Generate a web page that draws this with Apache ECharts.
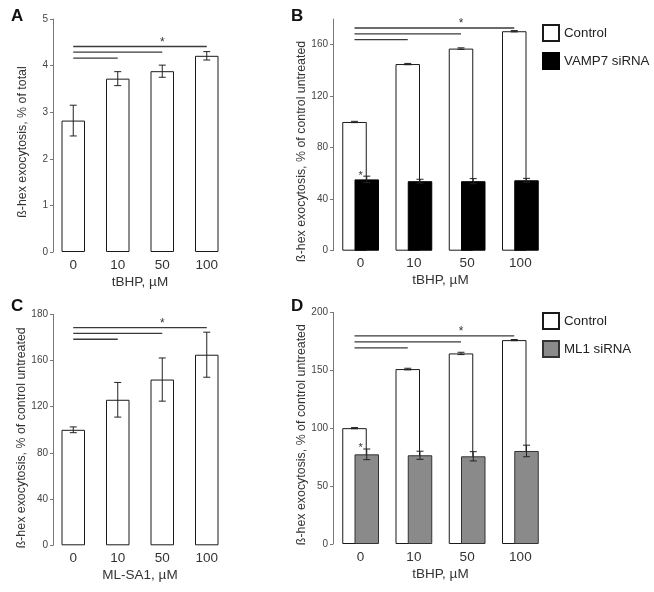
<!DOCTYPE html>
<html>
<head>
<meta charset="utf-8">
<script src="https://cdn.jsdelivr.net/npm/echarts@6/dist/echarts.min.js"></script>
<style>html,body{margin:0;padding:0;background:#fff}#c{width:654px;height:592px}</style>
</head>
<body>
<div id="c"></div>
<script>
// ---- data ----
const categories = ['0', '10', '50', '100'];

// Panel A
const aValues = [2.82, 3.72, 3.88, 4.21];
const aErrors = [0.33, 0.15, 0.13, 0.09];
const aTicks = [0, 1, 2, 3, 4, 5];
const aSig = [[0, 1, 4.16], [0, 2, 4.29], [0, 3, 4.41]];
const aStars = [[1.5, 4.49]];

// Panel B
const bControl = [100, 145, 157, 170.5];
const bControlErr = [0.5, 0.5, 0.6, 0.5];
const bVamp7 = [55.4, 54, 54, 54.7];
const bVamp7Err = [2.5, 1.5, 2, 1.5];
const bTicks = [0, 40, 80, 120, 160];
const bSig = [[0, 1, 164], [0, 2, 168.5], [0, 3, 173]];
const bStarsTop = [[1.5, 176.5]];
const bStarsBar = [[0, 58]];

// Panel C
const cValues = [100, 126, 143.5, 165];
const cErrors = [2.5, 15, 18.7, 19.5];
const cTickValues = [0, 40, 80, 120, 160, 200];
const cTickLabels = ['0', '40', '80', '120', '160', '180'];
const cSig = [[0, 1, 178.4], [0, 2, 183.5], [0, 3, 188.4]];
const cStars = [[1.5, 191.5]];

// Panel D
const dControl = [100, 151, 164.5, 176];
const dControlErr = [0.5, 0.7, 1, 0.5];
const dMl1 = [77.4, 76.6, 75.7, 80.3];
const dMl1Err = [4.6, 3.5, 4, 5];
const dTicks = [0, 50, 100, 150, 200];
const dSig = [[0, 1, 169.3], [0, 2, 174.4], [0, 3, 179.6]];
const dStarsTop = [[1.5, 183.5]];
const dStarsBar = [[0, 83]];

// ---- styles ----
const FONT = 'Liberation Sans, Arial, sans-serif';
const TXT = '#333';
const AX = '#777';
const SINGLE_W = 23.5;
const PAIR_W = 24.5;
const PAIR_SHIFT = PAIR_W / 4;

const chart = echarts.init(document.getElementById('c'), null, {renderer: 'canvas'});

function xAxisFor(gi, name) {
  return {
    type: 'category', gridIndex: gi, data: categories,
    axisLine: {show: false}, axisTick: {show: false},
    axisLabel: {fontSize: 13.5, color: TXT, margin: 6, fontFamily: FONT},
    name: name, nameLocation: 'middle', nameGap: 23,
    nameTextStyle: {fontSize: 13.5, color: TXT, fontFamily: FONT}
  };
}
function yAxisFor(gi, max, ticks, name, shiftPad, offset, fmt) {
  return {
    type: 'value', gridIndex: gi, min: 0, max: max, offset: offset || 0,
    splitLine: {show: false},
    axisLine: {show: true, lineStyle: {color: AX, width: 1}},
    axisTick: {show: true, length: 3, customValues: ticks, lineStyle: {color: AX}},
    axisLabel: {fontSize: 10, color: '#444', margin: 5, fontFamily: FONT, customValues: ticks,
      formatter: fmt || (v => String(v))},
    name: name, nameLocation: 'middle', nameGap: 24,
    nameTextStyle: {fontSize: 12.4, color: TXT, fontFamily: FONT, padding: [0, shiftPad, 0, 0]}
  };
}

function errSeries(gi, values, errs, shift) {
  return {
    type: 'custom', xAxisIndex: gi, yAxisIndex: gi, z: 5, silent: true,
    data: values.map((v, i) => [i, v, errs[i]]),
    renderItem: function (params, api) {
      const i = api.value(0), v = api.value(1), e = api.value(2);
      const top = api.coord([i, v + e]);
      const bot = api.coord([i, v - e]);
      const x = top[0] + shift;
      const cap = 3.5;
      const st = {stroke: '#222', lineWidth: 1};
      return {type: 'group', children: [
        {type: 'line', shape: {x1: x, y1: top[1], x2: x, y2: bot[1]}, style: st},
        {type: 'line', shape: {x1: x - cap, y1: top[1], x2: x + cap, y2: top[1]}, style: st},
        {type: 'line', shape: {x1: x - cap, y1: bot[1], x2: x + cap, y2: bot[1]}, style: st}
      ]};
    }
  };
}
function sigSeries(gi, sig, shift) {
  return {
    type: 'custom', xAxisIndex: gi, yAxisIndex: gi, z: 5, silent: true,
    data: sig,
    renderItem: function (params, api) {
      const a = api.coord([api.value(0), api.value(2)]);
      const b = api.coord([api.value(1), api.value(2)]);
      return {type: 'line', shape: {x1: a[0] + shift, y1: a[1], x2: b[0] + shift, y2: b[1]},
        style: {stroke: '#3a3a3a', lineWidth: 1.3}};
    }
  };
}
function starSeries(gi, stars, shift, size) {
  return {
    type: 'custom', xAxisIndex: gi, yAxisIndex: gi, z: 6, silent: true,
    data: stars,
    renderItem: function (params, api) {
      const p = api.coord([api.value(0), api.value(1)]);
      return {type: 'text', x: p[0] + shift, y: p[1],
        style: {text: '*', fontSize: size, fontFamily: FONT, fill: '#333', align: 'center', verticalAlign: 'middle'}};
    }
  };
}

const whiteStyle = {color: '#fff', borderColor: '#1a1a1a', borderWidth: 1};

const option = {
  animation: false,
  backgroundColor: '#fff',
  textStyle: {fontFamily: FONT},
  title: [
    {text: 'A', left: 6, top: 3, textStyle: {fontSize: 17, fontWeight: 'bold', color: '#111', fontFamily: FONT}},
    {text: 'B', left: 286, top: 3, textStyle: {fontSize: 17, fontWeight: 'bold', color: '#111', fontFamily: FONT}},
    {text: 'C', left: 6, top: 293, textStyle: {fontSize: 17, fontWeight: 'bold', color: '#111', fontFamily: FONT}},
    {text: 'D', left: 286, top: 293, textStyle: {fontSize: 17, fontWeight: 'bold', color: '#111', fontFamily: FONT}}
  ],
  legend: [
    {orient: 'vertical', left: 537, top: 19, itemWidth: 16, itemHeight: 16, itemGap: 10, icon: 'rect',
      data: ['Control', 'VAMP7 siRNA'], selectedMode: false,
      textStyle: {fontSize: 13.3, color: '#222', fontFamily: FONT}},
    {orient: 'vertical', left: 537, top: 307, itemWidth: 16, itemHeight: 16, itemGap: 10, icon: 'rect',
      data: ['Control ', 'ML1 siRNA'], selectedMode: false,
      textStyle: {fontSize: 13.3, color: '#222', fontFamily: FONT}}
  ],
  grid: [
    {left: 51, top: 19, width: 178, height: 233},
    {left: 334, top: 19, width: 213, height: 231.7},
    {left: 51, top: 314.3, width: 178, height: 231},
    {left: 334, top: 312.3, width: 213, height: 231.7}
  ],
  xAxis: [
    xAxisFor(0, 'tBHP, µM'),
    xAxisFor(1, 'tBHP, µM'),
    xAxisFor(2, 'ML-SA1, µM'),
    xAxisFor(3, 'tBHP, µM')
  ],
  yAxis: [
    yAxisFor(0, 5, aTicks, 'ß-hex exocytosis, % of total', 13, -2),
    yAxisFor(1, 180, bTicks, 'ß-hex exocytosis, % of control untreated', 33, 1),
    yAxisFor(2, 200, cTickValues, 'ß-hex exocytosis, % of control untreated', 16, -2,
      v => cTickLabels[cTickValues.indexOf(v)]),
    yAxisFor(3, 200, dTicks, 'ß-hex exocytosis, % of control untreated', 13, 1)
  ],
  series: [
    // A
    {name: 'A', type: 'bar', xAxisIndex: 0, yAxisIndex: 0, data: aValues, barWidth: SINGLE_W, itemStyle: whiteStyle},
    errSeries(0, aValues, aErrors, 0),
    sigSeries(0, aSig, 0),
    starSeries(0, aStars, 0, 12),
    // B
    {name: 'Control', type: 'bar', xAxisIndex: 1, yAxisIndex: 1, data: bControl, barWidth: PAIR_W, barGap: '-50%', itemStyle: whiteStyle},
    {name: 'VAMP7 siRNA', type: 'bar', xAxisIndex: 1, yAxisIndex: 1, data: bVamp7, barWidth: PAIR_W, barGap: '-50%',
      itemStyle: {color: '#000', borderColor: '#000', borderWidth: 1}},
    errSeries(1, bControl, bControlErr, -PAIR_SHIFT),
    errSeries(1, bVamp7, bVamp7Err, PAIR_SHIFT),
    sigSeries(1, bSig, -PAIR_SHIFT),
    starSeries(1, bStarsTop, -PAIR_SHIFT, 12),
    starSeries(1, bStarsBar, 0, 11),
    // C
    {name: 'C', type: 'bar', xAxisIndex: 2, yAxisIndex: 2, data: cValues, barWidth: SINGLE_W, itemStyle: whiteStyle},
    errSeries(2, cValues, cErrors, 0),
    sigSeries(2, cSig, 0),
    starSeries(2, cStars, 0, 12),
    // D
    {name: 'Control ', type: 'bar', xAxisIndex: 3, yAxisIndex: 3, data: dControl, barWidth: PAIR_W, barGap: '-50%', itemStyle: whiteStyle},
    {name: 'ML1 siRNA', type: 'bar', xAxisIndex: 3, yAxisIndex: 3, data: dMl1, barWidth: PAIR_W, barGap: '-50%',
      itemStyle: {color: '#8a8a8a', borderColor: '#333', borderWidth: 1}},
    errSeries(3, dControl, dControlErr, -PAIR_SHIFT),
    errSeries(3, dMl1, dMl1Err, PAIR_SHIFT),
    sigSeries(3, dSig, -PAIR_SHIFT),
    starSeries(3, dStarsTop, -PAIR_SHIFT, 12),
    starSeries(3, dStarsBar, 0, 11)
  ]
};
chart.setOption(option);
</script>
</body>
</html>
